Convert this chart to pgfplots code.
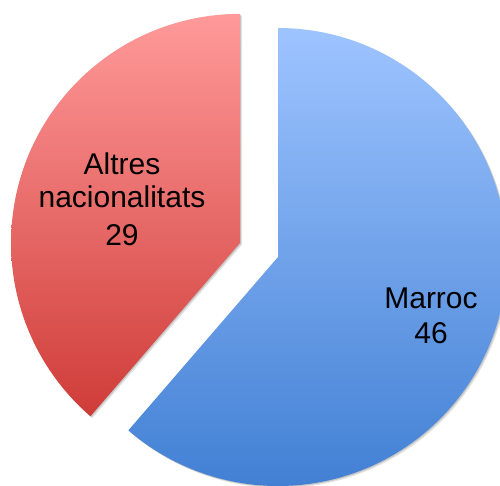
\documentclass[border=0pt]{standalone}
\usepackage{pgfplots}
\usepackage{pgfplotstable}
\pgfplotsset{compat=1.18}
\usepackage{fontspec}
\setmainfont{Liberation Sans}
\pgfplotstableread{
label value
Marroc 46
Altres 29
}\pietable
\definecolor{bluetop}{RGB}{158,196,255}
\definecolor{bluebot}{RGB}{66,128,212}
\definecolor{redtop}{RGB}{255,154,154}
\definecolor{redbot}{RGB}{207,60,56}
\begin{document}
\begin{tikzpicture}
\pgfplotstablegetelem{0}{value}\of\pietable \let\va\pgfplotsretval
\pgfplotstablegetelem{1}{value}\of\pietable \let\vb\pgfplotsretval
\pgfmathsetmacro\total{\va+\vb}
\pgfmathsetmacro\sweepA{360*(\va/\total)}
\pgfmathsetmacro\endA{90-\sweepA}
\pgfmathsetmacro\endB{450-\sweepA}
\pgfmathsetmacro\midB{(90+\endB)/2}
\pgfmathsetmacro\rcx{278+40.5*cos(\midB)}
\pgfmathsetmacro\rcy{228+40.5*sin(\midB)}
\begin{axis}[width=500pt, height=485pt, scale only axis,
  xmin=0, xmax=500, ymin=0, ymax=485,
  axis lines=none, ticks=none, clip=true]
  % shadows
  \fill[black, opacity=0.10] ([shift={(2pt,-2pt)}]axis cs:278,228) -- ++(90:229pt) arc[start angle=90, end angle=\endA, radius=229pt] -- cycle;
  \fill[black, opacity=0.14] ([shift={(1pt,-1pt)}]axis cs:278,228) -- ++(90:229pt) arc[start angle=90, end angle=\endA, radius=229pt] -- cycle;
  \fill[black, opacity=0.10] ([shift={(2pt,-2pt)}]axis cs:\rcx,\rcy) -- ++(90:229pt) arc[start angle=90, end angle=\endB, radius=229pt] -- cycle;
  \fill[black, opacity=0.14] ([shift={(1pt,-1pt)}]axis cs:\rcx,\rcy) -- ++(90:229pt) arc[start angle=90, end angle=\endB, radius=229pt] -- cycle;
  % slices
  \shade[top color=bluetop, bottom color=bluebot] (axis cs:278,228) -- ++(90:229pt) arc[start angle=90, end angle=\endA, radius=229pt] -- cycle;
  \shade[top color=redtop, bottom color=redbot] (axis cs:\rcx,\rcy) -- ++(90:229pt) arc[start angle=90, end angle=\endB, radius=229pt] -- cycle;
  % labels
  \node[anchor=base, inner sep=0pt, font=\fontsize{30}{34}\selectfont] at (axis cs:122,310) {Altres};
  \node[anchor=base, inner sep=0pt, font=\fontsize{30}{34}\selectfont] at (axis cs:122,277) {nacionalitats};
  \node[anchor=base, inner sep=0pt, font=\fontsize{30}{34}\selectfont] at (axis cs:122,240) {\vb};
  \node[anchor=base, inner sep=0pt, font=\fontsize{30}{34}\selectfont] at (axis cs:431,177) {Marroc};
  \node[anchor=base, inner sep=0pt, font=\fontsize{30}{34}\selectfont] at (axis cs:431,142) {\va};
\end{axis}
\pgfresetboundingbox
\useasboundingbox (current axis.south west) rectangle (current axis.north east);
\end{tikzpicture}
\end{document}
